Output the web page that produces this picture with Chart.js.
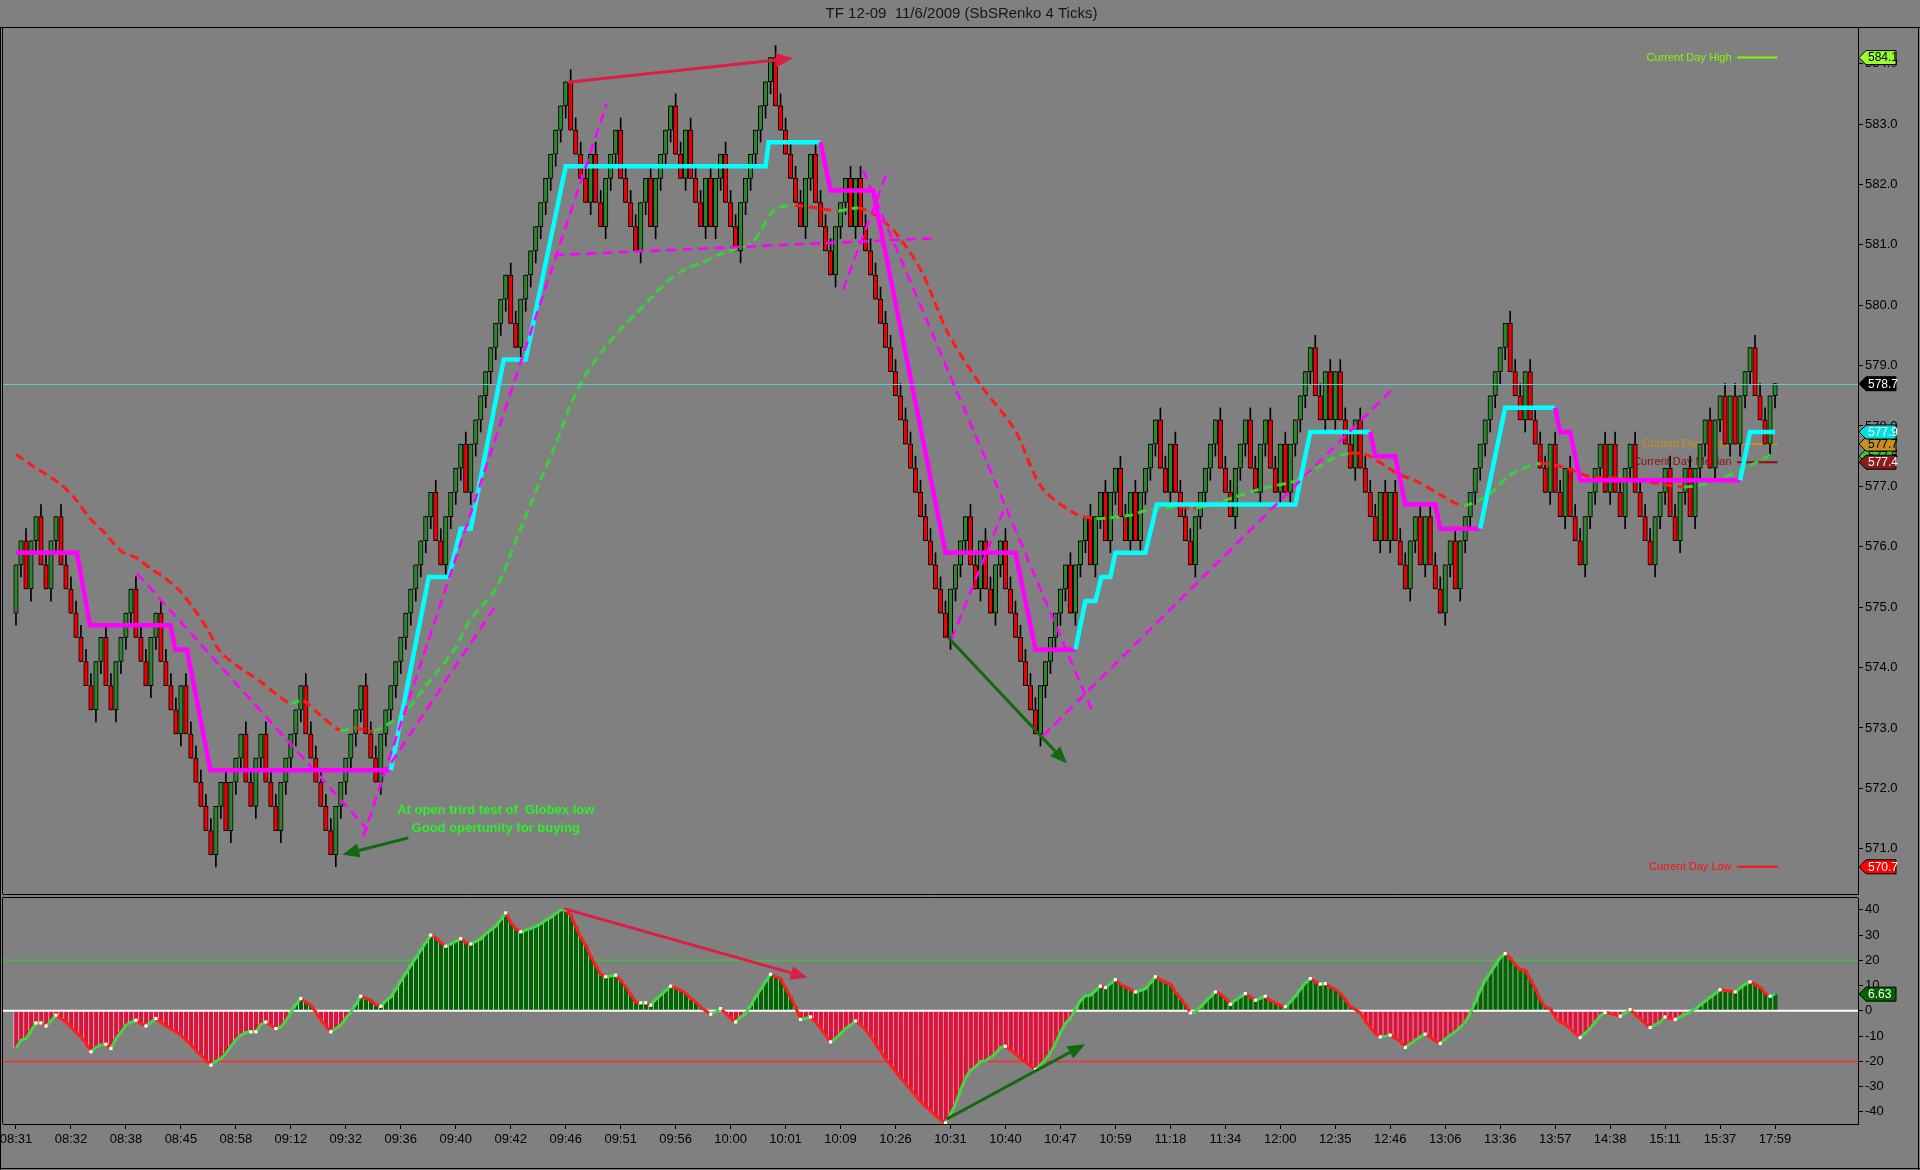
<!DOCTYPE html>
<html>
<head>
<meta charset="utf-8">
<title>TF 12-09 Renko</title>
<script src="https://cdn.jsdelivr.net/npm/chart.js@4.4.3/dist/chart.umd.min.js"></script>
<style>
    html, body { margin: 0; padding: 0; background: #808080; }
    #wrap { position: relative; width: 1920px; height: 1170px; overflow: hidden; }
    #priceCanvas { position: absolute; left: 0; top: 0; }
    #oscCanvas { position: absolute; left: 0; top: 896px; }
</style>
</head>
<body>
<div id="wrap">
    <canvas id="priceCanvas" width="1920" height="896"></canvas>
    <canvas id="oscCanvas" width="1920" height="274"></canvas>
</div>
<script>
// ---- data ----
const titleText = 'TF 12-09  11/6/2009 (SbSRenko 4 Ticks)';
const timeLabels = ['08:31', '08:32', '08:38', '08:45', '08:58', '09:12', '09:32', '09:36', '09:40', '09:42',
    '09:46', '09:51', '09:56', '10:00', '10:01', '10:09', '10:26', '10:31', '10:40', '10:47',
    '10:59', '11:18', '11:34', '12:00', '12:35', '12:46', '13:06', '13:36', '13:57', '14:38',
    '15:11', '15:37', '17:59'];
const barsPerLabel = 11;
const priceTicks = [571, 572, 573, 574, 575, 576, 577, 578, 579, 580, 581, 582, 583, 584];
const oscTicks = [-40, -30, -20, -10, 0, 10, 20, 30, 40];

// renko brick closes (4 ticks = 0.4), open of each brick is the previous close
const firstOpen = 574.9;
const closes = [
    575.7, 576.1, 575.3, 576.1, 576.5, 575.7, 575.3, 576.1, 576.5, 575.7,
    575.3, 574.9, 574.5, 574.1, 573.7, 573.3, 574.1, 574.5, 573.7, 573.3,
    574.1, 574.5, 574.9, 575.3, 574.5, 574.1, 573.7, 574.5, 574.9, 574.1,
    573.7, 573.3, 572.9, 573.7, 572.9, 572.5, 572.1, 571.7, 571.3, 570.9,
    571.7, 572.1, 571.3, 572.1, 572.5, 572.9, 572.1, 571.7, 572.5, 572.9,
    572.1, 571.7, 571.3, 572.1, 572.5, 572.9, 573.3, 573.7, 572.9, 572.5,
    572.1, 571.7, 571.3, 570.9, 571.7, 572.1, 572.5, 572.9, 573.3, 573.7,
    572.9, 572.5, 572.1, 572.9, 573.3, 573.7, 574.1, 574.5, 574.9, 575.3,
    575.7, 576.1, 576.5, 576.9, 576.1, 575.7, 576.5, 576.9, 577.3, 577.7,
    576.9, 577.7, 578.1, 578.5, 578.9, 579.3, 579.7, 580.1, 580.5, 579.7,
    579.3, 580.1, 580.5, 580.9, 581.3, 581.7, 582.1, 582.5, 582.9, 583.3,
    583.7, 582.9, 582.5, 582.1, 581.7, 582.5, 581.7, 581.3, 582.1, 582.5,
    582.9, 582.1, 581.7, 581.3, 580.9, 581.7, 582.1, 581.3, 582.1, 582.5,
    582.9, 583.3, 582.5, 582.1, 582.9, 582.1, 581.7, 581.3, 582.1, 581.3,
    582.1, 582.5, 581.7, 581.3, 580.9, 581.7, 582.1, 582.5, 582.9, 583.3,
    583.7, 584.1, 583.3, 582.9, 582.5, 582.1, 581.7, 581.3, 582.1, 582.5,
    581.7, 581.3, 580.9, 580.5, 581.3, 581.7, 582.1, 581.3, 582.1, 581.3,
    580.9, 580.5, 580.1, 579.7, 579.3, 578.9, 578.5, 578.1, 577.7, 577.3,
    576.9, 576.5, 576.1, 575.7, 575.3, 574.9, 574.5, 575.3, 575.7, 576.1,
    576.5, 575.7, 575.3, 576.1, 575.3, 574.9, 575.7, 576.1, 575.3, 574.9,
    574.5, 574.1, 573.7, 573.3, 572.9, 573.7, 574.1, 574.5, 574.9, 575.3,
    575.7, 574.9, 575.7, 576.1, 576.5, 575.7, 576.5, 576.9, 576.1, 576.9,
    577.3, 576.5, 576.1, 576.9, 576.1, 576.9, 577.3, 577.7, 578.1, 577.3,
    576.9, 577.7, 576.9, 576.5, 576.1, 575.7, 576.5, 576.9, 577.3, 577.7,
    578.1, 577.3, 576.9, 576.5, 577.3, 577.7, 578.1, 577.3, 576.9, 577.7,
    578.1, 577.3, 576.9, 577.7, 576.9, 577.7, 578.1, 578.5, 578.9, 579.3,
    578.5, 578.1, 578.9, 578.1, 578.9, 578.1, 577.7, 577.3, 578.1, 577.3,
    576.9, 576.5, 576.1, 576.9, 576.1, 576.9, 576.1, 575.7, 575.3, 576.1,
    576.5, 575.7, 576.5, 575.7, 575.3, 574.9, 575.7, 576.1, 575.3, 576.1,
    576.5, 576.9, 577.3, 577.7, 578.1, 578.5, 578.9, 579.3, 579.7, 578.9,
    578.5, 578.1, 578.9, 578.1, 577.7, 577.3, 576.9, 577.7, 576.9, 576.5,
    577.3, 576.5, 576.1, 575.7, 576.5, 576.9, 577.3, 577.7, 576.9, 577.7,
    576.9, 576.5, 577.3, 577.7, 576.9, 576.5, 576.1, 575.7, 576.5, 576.9,
    577.3, 576.5, 576.1, 576.9, 577.3, 576.5, 577.3, 577.7, 578.1, 577.3,
    578.1, 578.5, 577.7, 578.5, 577.7, 578.5, 578.9, 579.3, 578.5, 578.1,
    577.7, 578.5, 578.7
];

// trend step line, vertices as (bar, price)
const stepBars = [0, 12.2, 14.8, 30.9, 31.9, 34.2, 38.9, 75,
    82.6, 86.6, 89, 91, 97.6, 102, 110, 150,
    150.6, 161, 163, 171.5, 186, 200, 204, 212,
    214, 216, 217.2, 219, 220, 226, 228.3, 256,
    259, 271, 272, 276, 278, 284, 285, 293,
    298, 308, 309, 311, 313, 345, 347, 352];
const stepVals = [575.9, 575.9, 574.7, 574.7, 574.3, 574.3, 572.3, 572.3,
    575.5, 575.5, 576.3, 576.3, 579.1, 579.1, 582.3, 582.3,
    582.7, 582.7, 581.9, 581.9, 575.9, 575.9, 574.3, 574.3,
    575.1, 575.1, 575.5, 575.5, 575.9, 575.9, 576.7, 576.7,
    577.9, 577.9, 577.5, 577.5, 576.7, 576.7, 576.3, 576.3,
    578.3, 578.3, 577.9, 577.9, 577.1, 577.1, 577.9, 577.9];

// dashed moving average, read at these bars
const maBars = [0, 3.5, 8.2, 11.5, 14.8, 17.5, 21.2, 24.2, 26.9, 29.5,
    32.9, 35.5, 38.2, 40.9, 44.9, 48.9, 52.2, 54.9, 57.5, 60.9,
    64.9, 67.9, 71.6, 77.8, 82, 87.6, 91, 96, 100, 104.3,
    108, 111, 114, 117.7, 121, 124.4, 128, 131, 134, 137.7,
    142, 147.1, 151.8, 155.8, 161.1, 164.5, 168.5, 171.8, 176, 181.2,
    186.5, 193.2, 199.9, 205.2, 211.9, 216.2, 222.9, 226.2, 232.9, 236.2,
    243, 249.6, 256.3, 263, 267, 270.3, 276.3, 280.4, 285.7, 289.7,
    295, 299, 305, 310.4, 315, 321.8, 328.5, 333.8, 338.5, 345.2,
    352.2];
const maVals = [577.53, 577.33, 577.08, 576.83, 576.47, 576.25, 575.92, 575.81, 575.64, 575.5,
    575.26, 574.98, 574.65, 574.26, 573.99, 573.77, 573.55, 573.41, 573.45, 573.21,
    572.96, 573.0, 572.95, 573.26, 573.7, 574.28, 574.8, 575.3, 576.1, 576.97,
    577.7, 578.35, 578.85, 579.28, 579.6, 579.89, 580.2, 580.44, 580.6, 580.72,
    580.88, 581.02, 581.58, 581.65, 581.6, 581.56, 581.61, 581.5, 581.2, 580.56,
    579.54, 578.66, 577.93, 576.99, 576.55, 576.47, 576.52, 576.6, 576.66, 576.64,
    576.8, 576.97, 577.1, 577.44, 577.55, 577.52, 577.22, 577.08, 576.83, 576.68,
    576.88, 577.19, 577.38, 577.3, 577.16, 577.13, 577.05, 576.99, 577.05, 577.27,
    577.57];

// oscillator, one value per brick
const osc = [
    -14.9, -11.6, -11.0, -8.0, -4.8, -4.8, -6.0, -4.0, -1.7, -3.0,
    -4.4, -6.5, -8.5, -10.3, -13.0, -16.2, -14.5, -13.6, -13.2, -14.9,
    -11.0, -8.5, -5.7, -4.5, -3.7, -5.0, -6.0, -4.5, -3.0, -4.5,
    -6.0, -7.2, -8.4, -9.6, -11.5, -13.5, -15.6, -17.5, -19.5, -21.5,
    -20.0, -18.9, -16.9, -14.0, -11.5, -9.6, -8.5, -8.3, -8.3, -5.5,
    -4.4, -5.7, -7.0, -6.5, -4.0, -0.8, 2.5, 4.9, 3.5, 2.2,
    -0.5, -3.7, -6.0, -8.3, -7.0, -5.7, -3.0, -0.5, 2.5, 5.8,
    5.0, 4.2, 2.5, 1.8, 4.0, 5.5, 8.5, 11.8, 14.8, 18.0,
    21.0, 24.0, 27.0, 30.0, 29.0, 27.0, 25.6, 26.5, 27.5, 28.6,
    27.0, 26.5, 27.5, 28.5, 30.5, 32.0, 33.5, 36.0, 38.8, 35.0,
    32.6, 31.3, 32.0, 32.6, 33.5, 34.5, 35.9, 37.0, 38.5, 40.0,
    40.1, 38.0, 33.5, 29.3, 26.0, 21.5, 18.0, 14.5, 13.5, 13.8,
    14.1, 12.0, 9.5, 6.5, 3.5, 3.2, 3.2, 2.2, 4.5, 6.2,
    8.0, 9.8, 9.0, 8.2, 7.0, 5.0, 3.6, 1.5, 0.0, -1.3,
    -0.5, 0.9, -1.0, -3.0, -4.4, -2.5, -1.1, 2.0, 5.5, 8.5,
    11.5, 14.5, 13.5, 12.8, 9.0, 5.5, 1.5, -3.4, -3.0, -2.4,
    -4.5, -7.0, -9.5, -12.3, -11.0, -9.0, -7.0, -5.7, -4.0, -5.5,
    -7.5, -10.0, -13.0, -16.0, -19.0, -21.5, -24.0, -26.5, -28.8, -31.0,
    -33.5, -36.0, -37.8, -39.5, -41.5, -43.0, -44.4, -41.0, -37.0, -31.5,
    -26.8, -23.5, -22.2, -20.0, -19.8, -18.5, -16.9, -14.5, -14.0, -15.6,
    -17.0, -18.9, -20.3, -21.8, -23.2, -21.3, -19.5, -16.5, -13.0, -8.5,
    -5.0, -3.0, 0.5, 4.0, 6.0, 6.2, 8.0, 9.8, 9.2, 10.8,
    12.4, 10.5, 9.5, 8.5, 7.5, 8.0, 8.8, 11.0, 13.5, 12.3,
    11.5, 10.6, 7.5, 5.0, 2.5, -0.8, -0.4, 1.5, 3.6, 5.5,
    7.5, 6.8, 5.0, 2.6, 4.2, 5.5, 6.9, 5.5, 4.2, 5.0,
    5.8, 4.2, 3.2, 2.2, 1.6, 3.5, 5.8, 8.5, 11.0, 12.8,
    11.5, 10.6, 10.8, 9.5, 8.5, 6.9, 4.5, 1.8, 0.5, -0.8,
    -4.0, -6.5, -9.0, -10.3, -10.0, -9.6, -10.8, -12.0, -14.5, -13.0,
    -11.6, -10.3, -9.2, -10.5, -11.8, -12.9, -11.2, -9.5, -8.3, -6.5,
    -4.5, -1.0, 3.5, 8.0, 12.1, 15.0, 18.0, 21.0, 22.7, 21.0,
    18.5, 16.4, 16.1, 12.5, 9.0, 4.5, 1.6, 0.9, -2.5, -4.5,
    -5.3, -7.0, -9.0, -10.6, -8.8, -7.0, -4.5, -2.0, -0.6, -0.9,
    -1.7, -2.1, -0.8, 0.5, -1.5, -3.0, -5.0, -6.6, -5.5, -4.4,
    -2.4, -3.0, -3.4, -2.4, -1.3, -0.6, 0.8, 2.2, 3.8, 5.3,
    6.8, 8.4, 8.1, 7.9, 7.5, 9.0, 10.5, 11.5, 10.5, 9.5,
    7.0, 5.8, 6.63
];
const oscLevels = [20, 0, -20];

// drawn objects, in (bar, price) units
const trendLines = [
    [24.2, 575.56, 71.3, 571.23],
    [69.5, 571.2, 118.2, 583.34],
    [73.3, 572.2, 96.2, 575.05],
    [107.7, 580.83, 184.5, 581.11],
    [165.5, 580.26, 174.5, 582.24],
    [169.5, 582.24, 215.6, 573.23],
    [187.2, 574.47, 197.9, 576.66],
    [205.5, 572.87, 275.8, 578.64]
];
const priceArrows = [
    [110.4, 583.69, 155.5, 584.09],
    [78.5, 571.18, 65.3, 570.9],
    [186.5, 574.5, 210.3, 572.41]
];
const oscArrows = [
    [109.6, 40.5, 158.4, 13.2],
    [186.2, -42.9, 213.9, -13.2]
];
const noteLines = ['At open trird test of  Globex low', 'Good opertunity for buying'];
const noteBar = 96;
const notePrices = [571.63, 571.34];

const lastPrice = 578.7;
const dayLevelNames = ['Current Day High', 'Current Day Open', 'Current Day Median', 'Current Day Low'];
const dayLevelValues = [584.1, 577.7, 577.4, 570.7];
const priceTagValues = [577.5, 577.4, 577.7, 577.9, 578.7, 584.1, 570.7];
const oscTagValue = 6.63;

// ---- styles ----
const BODY_UP = '#2a872a';
const BODY_DOWN = '#f00000';
const STEP_UP = '#00ffff';
const STEP_DOWN = '#ff00ff';
const MA_UP = '#3ccf3c';
const MA_DOWN = '#ff1a1a';
const OSC_UP = '#45d645';
const OSC_DOWN = '#ff1e1e';
const HIST_UP = '#006400';
const HIST_DOWN = '#dc143c';
const dayLevelColors = ['#7cfc00', '#c8901a', '#8b1010', '#ff1010'];
const priceTagFills = ['#3cc83c', '#8b1a1a', '#c8901a', '#00e0e0', '#000000', '#99ff33', '#ff0000'];
const priceTagInk = ['#000', '#fff', '#000', '#fff', '#fff', '#000', '#fff'];
const oscLevelColors = ['#3fbf3f', '#ffffff', '#ff2a2a'];
const FONT = 'Arial';
const X_MIN = -2.6, X_MAX = 368.6;
const WICK = 0.2; // wick on the open side of each brick

// ---- derived ----
const opens = closes.map((c, i) => i === 0 ? firstOpen : closes[i - 1]);
const bodyColors = closes.map((c, i) => c >= opens[i] ? BODY_UP : BODY_DOWN);
const wicks = closes.map((c, i) => c >= opens[i] ? [opens[i] - WICK, c] : [c, opens[i] + WICK]);

let trendUp = false;
const stepSegColors = stepBars.slice(0, -1).map((b, k) => {
    const d = stepVals[k + 1] - stepVals[k];
    if (d > 0) trendUp = true;
    else if (d < 0) trendUp = false;
    return trendUp ? STEP_UP : STEP_DOWN;
});

const turning = osc.map((v, i) => {
    if (i === 0 || i === osc.length - 1) return false;
    return Math.sign(v - osc[i - 1]) !== Math.sign(osc[i + 1] - v);
});

// ---- drawing helpers ----
function drawArrow(ctx, x0, y0, x1, y1, color, width) {
    const ang = Math.atan2(y1 - y0, x1 - x0);
    const head = 17, half = 7;
    const bx = x1 - head * Math.cos(ang), by = y1 - head * Math.sin(ang);
    ctx.strokeStyle = color;
    ctx.lineWidth = width;
    ctx.setLineDash([]);
    ctx.beginPath();
    ctx.moveTo(x0, y0);
    ctx.lineTo(bx, by);
    ctx.stroke();
    ctx.fillStyle = color;
    ctx.beginPath();
    ctx.moveTo(x1, y1);
    ctx.lineTo(bx + half * Math.sin(ang), by - half * Math.cos(ang));
    ctx.lineTo(bx - half * Math.sin(ang), by + half * Math.cos(ang));
    ctx.closePath();
    ctx.fill();
}

function drawTag(ctx, axisX, py, text, fill, ink) {
    ctx.beginPath();
    ctx.moveTo(axisX + 1, py);
    ctx.lineTo(axisX + 8, py - 7);
    ctx.lineTo(axisX + 38, py - 7);
    ctx.lineTo(axisX + 38, py + 7);
    ctx.lineTo(axisX + 8, py + 7);
    ctx.closePath();
    ctx.fillStyle = fill;
    ctx.fill();
    ctx.strokeStyle = '#000';
    ctx.lineWidth = 1;
    ctx.stroke();
    ctx.fillStyle = ink;
    ctx.font = '12px ' + FONT;
    ctx.textAlign = 'left';
    ctx.textBaseline = 'middle';
    ctx.fillText(text, axisX + 10, py + 0.5);
}

const pricePlugin = {
    id: 'priceDecor',
    beforeDatasetsDraw(chart) {
        const { ctx, scales: { x, y } } = chart;
        ctx.save();
        ctx.font = '11px ' + FONT;
        ctx.textAlign = 'right';
        ctx.textBaseline = 'middle';
        dayLevelNames.forEach((name, k) => {
            const py = y.getPixelForValue(dayLevelValues[k]);
            ctx.fillStyle = dayLevelColors[k];
            ctx.fillText(name, x.getPixelForValue(343.3), py);
            ctx.strokeStyle = dayLevelColors[k];
            ctx.lineWidth = 2;
            ctx.beginPath();
            ctx.moveTo(x.getPixelForValue(344.4), py);
            ctx.lineTo(x.getPixelForValue(352.5), py);
            ctx.stroke();
        });
        ctx.restore();
    },
    afterDatasetsDraw(chart) {
        const { ctx, chartArea: a, scales: { x, y } } = chart;
        ctx.save();
        // last price line
        const lp = Math.round(y.getPixelForValue(lastPrice)) + 0.5;
        ctx.strokeStyle = '#62c8c8';
        ctx.lineWidth = 1;
        ctx.beginPath();
        ctx.moveTo(a.left, lp);
        ctx.lineTo(a.right, lp);
        ctx.stroke();
        // dashed trend lines
        ctx.strokeStyle = STEP_DOWN;
        ctx.lineWidth = 2.6;
        ctx.setLineDash([10, 6]);
        trendLines.forEach(t => {
            ctx.beginPath();
            ctx.moveTo(x.getPixelForValue(t[0]), y.getPixelForValue(t[1]));
            ctx.lineTo(x.getPixelForValue(t[2]), y.getPixelForValue(t[3]));
            ctx.stroke();
        });
        ctx.setLineDash([]);
        // arrows
        priceArrows.forEach((t, k) => {
            drawArrow(ctx, x.getPixelForValue(t[0]), y.getPixelForValue(t[1]),
                x.getPixelForValue(t[2]), y.getPixelForValue(t[3]),
                k === 0 ? '#dc1e46' : '#10680f', 3);
        });
        // note text
        ctx.font = 'bold 13px ' + FONT;
        ctx.textAlign = 'center';
        ctx.textBaseline = 'middle';
        ctx.fillStyle = '#2cf02c';
        noteLines.forEach((line, k) => {
            ctx.fillText(line, x.getPixelForValue(noteBar), y.getPixelForValue(notePrices[k]));
        });
        ctx.restore();
    },
    afterDraw(chart) {
        const { ctx, chartArea: a, scales: { y }, width, height } = chart;
        ctx.save();
        ctx.strokeStyle = '#000';
        ctx.lineWidth = 1;
        ctx.beginPath();
        ctx.moveTo(0, a.top - 0.5);
        ctx.lineTo(width, a.top - 0.5);
        ctx.moveTo(a.left - 0.5, a.top);
        ctx.lineTo(a.left - 0.5, a.bottom);
        ctx.moveTo(a.left, a.bottom + 0.5);
        ctx.lineTo(a.right, a.bottom + 0.5);
        ctx.moveTo(0.5, a.top);
        ctx.lineTo(0.5, height);
        ctx.moveTo(width - 1.5, a.top);
        ctx.lineTo(width - 1.5, height);
        ctx.stroke();
        priceTagValues.forEach((v, k) => {
            drawTag(ctx, a.right, y.getPixelForValue(v), v.toFixed(1), priceTagFills[k], priceTagInk[k]);
        });
        ctx.restore();
    }
};

const oscPlugin = {
    id: 'oscDecor',
    beforeDatasetsDraw(chart) {
        const { ctx, chartArea: a, scales: { y } } = chart;
        ctx.save();
        ctx.lineWidth = 1.5;
        oscLevels.forEach((lv, k) => {
            if (lv === 0) return;
            const py = y.getPixelForValue(lv);
            ctx.strokeStyle = oscLevelColors[k];
            ctx.beginPath();
            ctx.moveTo(a.left, py);
            ctx.lineTo(a.right, py);
            ctx.stroke();
        });
        ctx.restore();
    },
    beforeDatasetDraw(chart, args) {
        if (args.meta.type !== 'line') return;
        const { ctx, chartArea: a, scales: { y } } = chart;
        const k = oscLevels.indexOf(0);
        ctx.save();
        ctx.strokeStyle = oscLevelColors[k];
        ctx.lineWidth = 2;
        ctx.beginPath();
        ctx.moveTo(a.left, y.getPixelForValue(0));
        ctx.lineTo(a.right, y.getPixelForValue(0));
        ctx.stroke();
        ctx.restore();
    },
    afterDatasetsDraw(chart) {
        const { ctx, scales: { x, y } } = chart;
        ctx.save();
        oscArrows.forEach((t, k) => {
            drawArrow(ctx, x.getPixelForValue(t[0]), y.getPixelForValue(t[1]),
                x.getPixelForValue(t[2]), y.getPixelForValue(t[3]),
                k === 0 ? '#dc1e46' : '#10680f', 3);
        });
        ctx.restore();
    },
    afterDraw(chart) {
        const { ctx, chartArea: a, scales: { y }, width, height } = chart;
        ctx.save();
        ctx.strokeStyle = '#000';
        ctx.lineWidth = 1;
        ctx.beginPath();
        ctx.moveTo(a.left - 0.5, a.top - 0.5);
        ctx.lineTo(a.right, a.top - 0.5);
        ctx.moveTo(a.left - 0.5, a.top);
        ctx.lineTo(a.left - 0.5, a.bottom);
        ctx.moveTo(0.5, 0);
        ctx.lineTo(0.5, height);
        ctx.moveTo(0, height - 1.5);
        ctx.lineTo(width, height - 1.5);
        ctx.moveTo(width - 1.5, 0);
        ctx.lineTo(width - 1.5, height);
        ctx.stroke();
        drawTag(ctx, a.right, y.getPixelForValue(oscTagValue), oscTagValue.toFixed(2), HIST_UP, '#fff');
        ctx.restore();
    }
};

// fixed axis size, and no extra room reserved for half-labels at the ends
const fixYAxis = axis => {
    axis.width = 62;
    axis.paddingTop = 0;
    axis.paddingBottom = 0;
};

const yAxisBase = {
    position: 'right',
    beginAtZero: false,
    afterFit: fixYAxis,
    ticks: { color: '#000', font: { family: FONT, size: 13 }, padding: 2 },
    grid: { drawOnChartArea: false, color: '#000', tickLength: 5 },
    border: { color: '#000' }
};

new Chart(document.getElementById('priceCanvas'), {
    type: 'bar',
    data: {
        datasets: [
            {
                type: 'line',
                data: stepBars.map((b, k) => ({ x: b, y: stepVals[k] })),
                borderColor: STEP_DOWN,
                borderWidth: 4.5,
                pointRadius: 0,
                tension: 0,
                segment: { borderColor: c => stepSegColors[c.p0DataIndex] },
                order: 1
            },
            {
                type: 'line',
                data: maBars.map((b, k) => ({ x: b, y: maVals[k] })),
                borderColor: MA_DOWN,
                borderWidth: 3,
                borderDash: [9, 5],
                pointRadius: 0,
                tension: 0.3,
                segment: { borderColor: c => c.p1.parsed.y > c.p0.parsed.y ? MA_UP : MA_DOWN },
                order: 2
            },
            {
                data: closes.map((c, i) => ({ x: i, y: [opens[i], c] })),
                backgroundColor: bodyColors,
                borderColor: '#000',
                borderWidth: 1,
                borderSkipped: false,
                barThickness: 4.5,
                grouped: false,
                order: 3
            },
            {
                data: wicks.map((w, i) => ({ x: i, y: w })),
                backgroundColor: '#000',
                borderWidth: 0,
                barThickness: 1,
                grouped: false,
                order: 4
            }
        ]
    },
    options: {
        responsive: false,
        animation: false,
        layout: { padding: { left: 3, top: 2, right: 0, bottom: 2 } },
        plugins: {
            legend: { display: false },
            tooltip: { enabled: false },
            title: {
                display: true,
                text: titleText,
                color: '#161616',
                font: { family: FONT, size: 15, weight: 'normal' },
                padding: { top: 3, bottom: 5 }
            }
        },
        scales: {
            x: { type: 'linear', display: false, min: X_MIN, max: X_MAX, offset: false, grid: { offset: false } },
            y: Object.assign({}, yAxisBase, {
                min: 570.25,
                max: 584.59,
                afterBuildTicks: axis => { axis.ticks = priceTicks.map(v => ({ value: v })); },
                ticks: Object.assign({}, yAxisBase.ticks, { callback: v => Number(v).toFixed(1) })
            })
        }
    },
    plugins: [pricePlugin]
});

new Chart(document.getElementById('oscCanvas'), {
    type: 'bar',
    data: {
        datasets: [
            {
                type: 'line',
                data: osc.map((v, i) => ({ x: i, y: v })),
                borderColor: OSC_UP,
                borderWidth: 3,
                tension: 0,
                pointRadius: c => turning[c.dataIndex] ? 2.2 : 0,
                pointStyle: 'rect',
                pointBackgroundColor: '#ffffff',
                pointBorderWidth: 0,
                segment: { borderColor: c => c.p1.parsed.y >= c.p0.parsed.y ? OSC_UP : OSC_DOWN },
                order: 1
            },
            {
                data: osc.map((v, i) => ({ x: i, y: v })),
                backgroundColor: osc.map(v => v >= 0 ? HIST_UP : HIST_DOWN),
                borderColor: 'rgba(255,255,255,0.55)',
                borderWidth: { left: 1, right: 0, top: 0, bottom: 0 },
                borderSkipped: false,
                barThickness: 5,
                grouped: false,
                order: 2
            }
        ]
    },
    options: {
        responsive: false,
        animation: false,
        layout: { padding: { left: 3, top: 2, right: 0, bottom: 0 } },
        plugins: { legend: { display: false }, tooltip: { enabled: false } },
        scales: {
            x: {
                type: 'linear',
                min: X_MIN,
                max: X_MAX,
                offset: false,
                afterBuildTicks: axis => { axis.ticks = timeLabels.map((t, k) => ({ value: k * barsPerLabel })); },
                afterFit: axis => {
                    axis.height = 46;
                    axis.paddingLeft = 0;
                    axis.paddingRight = 0;
                },
                ticks: {
                    autoSkip: false,
                    maxRotation: 0,
                    color: '#000',
                    font: { family: FONT, size: 13 },
                    padding: 3,
                    callback: v => timeLabels[Math.round(v / barsPerLabel)]
                },
                grid: { drawOnChartArea: false, color: '#000', tickLength: 5, offset: false },
                border: { color: '#000' }
            },
            y: Object.assign({}, yAxisBase, {
                min: -44.8,
                max: 44.7,
                afterBuildTicks: axis => { axis.ticks = oscTicks.map(v => ({ value: v })); }
            })
        }
    },
    plugins: [oscPlugin]
});
</script>
</body>
</html>
